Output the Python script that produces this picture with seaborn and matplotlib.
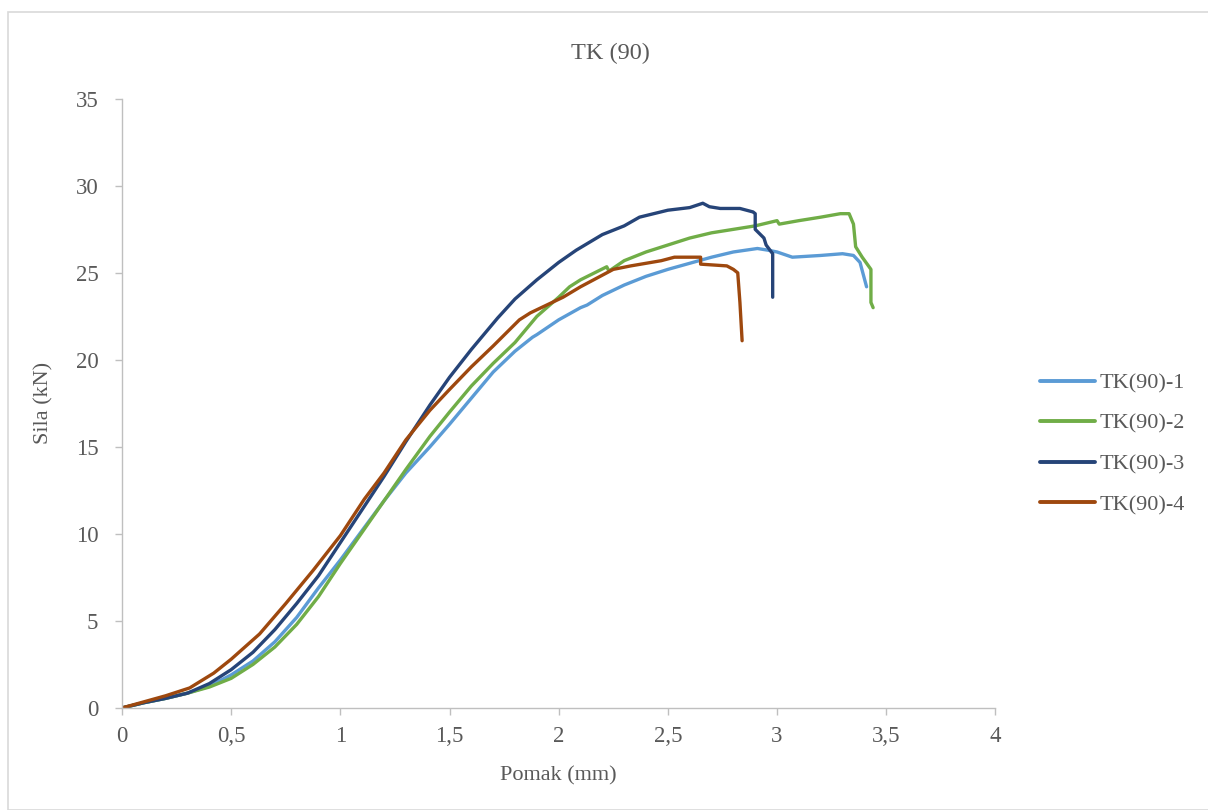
import matplotlib
matplotlib.use("Agg")
import matplotlib.pyplot as plt
import matplotlib.patches as mpatches
import pandas as pd
import seaborn as sns

# Data (displacement mm, force kN)
x1 = [0, 0.1, 0.2, 0.3, 0.4, 0.5, 0.6, 0.7, 0.8, 0.9, 1.0, 1.1, 1.2, 1.3, 1.41, 1.5, 1.6, 1.7, 1.8, 1.88,
      1.9, 2.0, 2.1, 2.13, 2.2, 2.3, 2.4, 2.5, 2.6, 2.7, 2.8, 2.91, 2.96, 3.0, 3.07, 3.2, 3.3, 3.35, 3.38, 3.41]
y1 = [0, 0.3, 0.55, 0.85, 1.25, 1.9, 2.7, 3.8, 5.2, 6.9, 8.5, 10.2, 11.9, 13.5, 15.0, 16.3, 17.8, 19.3, 20.5, 21.3,
      21.45, 22.3, 23.0, 23.15, 23.7, 24.3, 24.8, 25.2, 25.55, 25.9, 26.2, 26.4, 26.3, 26.2, 25.9, 26.0, 26.1, 26.0, 25.6, 24.2]

x2 = [0, 0.1, 0.2, 0.3, 0.4, 0.5, 0.6, 0.7, 0.8, 0.9, 1.0, 1.1, 1.2, 1.3, 1.41, 1.5, 1.6, 1.7, 1.8, 1.9,
      2.0, 2.05, 2.1, 2.22, 2.23, 2.3, 2.4, 2.5, 2.6, 2.7, 2.8, 2.9, 3.0, 3.01, 3.1, 3.2, 3.29, 3.33,
      3.35, 3.36, 3.39, 3.43, 3.43, 3.44]
y2 = [0, 0.3, 0.55, 0.85, 1.2, 1.7, 2.5, 3.5, 4.8, 6.4, 8.3, 10.1, 11.9, 13.7, 15.6, 17.0, 18.5, 19.8, 21.0, 22.5,
      23.6, 24.2, 24.6, 25.35, 25.1, 25.7, 26.2, 26.6, 27.0, 27.3, 27.5, 27.7, 28.0, 27.8, 28.0, 28.2, 28.4, 28.4,
      27.8, 26.5, 25.9, 25.2, 23.3, 23.0]

x3 = [0, 0.1, 0.2, 0.3, 0.4, 0.5, 0.6, 0.7, 0.8, 0.9, 1.0, 1.1, 1.2, 1.3, 1.41, 1.5, 1.6, 1.72, 1.8, 1.9,
      2.0, 2.08, 2.2, 2.3, 2.37, 2.5, 2.6, 2.66, 2.69, 2.74, 2.83, 2.89, 2.90, 2.90, 2.94, 2.95, 2.98, 2.98]
y3 = [0, 0.3, 0.55, 0.85, 1.4, 2.2, 3.2, 4.5, 6.0, 7.6, 9.5, 11.4, 13.3, 15.3, 17.4, 19.0, 20.6, 22.4, 23.5, 24.6,
      25.6, 26.3, 27.2, 27.7, 28.2, 28.6, 28.75, 29.0, 28.8, 28.7, 28.7, 28.5, 28.4, 27.5, 27.0, 26.6, 26.1, 23.6]

x4 = [0, 0.1, 0.2, 0.31, 0.42, 0.5, 0.63, 0.75, 0.875, 1.0, 1.11, 1.2, 1.3, 1.41, 1.5, 1.6, 1.7, 1.82, 1.87,
      2.02, 2.1, 2.25, 2.33, 2.47, 2.53, 2.65, 2.65, 2.77, 2.80, 2.82, 2.83, 2.84]
y4 = [0, 0.35, 0.7, 1.15, 2.0, 2.8, 4.25, 6.0, 7.9, 9.9, 12.0, 13.5, 15.4, 17.1, 18.3, 19.6, 20.8, 22.3, 22.7,
      23.6, 24.2, 25.2, 25.4, 25.7, 25.9, 25.9, 25.5, 25.4, 25.2, 25.0, 23.3, 21.1]

series_names = ["TK(90)-1", "TK(90)-2", "TK(90)-3", "TK(90)-4"]
colors = ["#5B9BD5", "#70AD47", "#264478", "#9E480E"]

x_ticks = [0, 0.5, 1, 1.5, 2, 2.5, 3, 3.5, 4]
x_tick_labels = ["0", "0,5", "1", "1,5", "2", "2,5", "3", "3,5", "4"]
y_ticks = [0, 5, 10, 15, 20, 25, 30, 35]

frames = []
for name, xs, ys in zip(series_names, [x1, x2, x3, x4], [y1, y2, y3, y4]):
    d = pd.DataFrame({"Pomak": xs, "Sila": ys})
    d["serija"] = name
    frames.append(d)
df = pd.concat(frames, ignore_index=True)

sns.set_theme(style="white")
plt.rcParams["font.family"] = ["Liberation Serif", "DejaVu Serif"]

fig = plt.figure(figsize=(12.08, 8.10), dpi=100)
ax = fig.add_axes([0.101, 0.126, 0.723, 0.752])

sns.lineplot(data=df, x="Pomak", y="Sila", hue="serija", hue_order=series_names,
             palette=colors, sort=False, estimator=None, units="serija",
             linewidth=2.4, ax=ax, legend=False)

ax.set_xlim(0, 4)
ax.set_ylim(0, 35)
ax.set_xticks(x_ticks)
ax.set_xticklabels(x_tick_labels)
ax.set_yticks(y_ticks)
ax.tick_params(axis="both", colors="#BFBFBF", labelcolor="#595959", labelsize=16.5,
               length=5, width=1, direction="out", left=True, bottom=True)
ax.tick_params(axis="x", pad=8)
ax.tick_params(axis="y", pad=12)
for s in ["top", "right"]:
    ax.spines[s].set_visible(False)
for s in ["left", "bottom"]:
    ax.spines[s].set_color("#BFBFBF")
    ax.spines[s].set_linewidth(1)

ax.set_xlabel("Pomak (mm)", fontsize=16, color="#595959", labelpad=14)
ax.set_ylabel("Sila (kN)", fontsize=16, color="#595959", labelpad=16)

fig.text(0.505, 0.934, "TK (90)", ha="center", va="center", fontsize=17.5, color="#595959")

handles = [plt.Line2D([], [], color=c, lw=2.8) for c in colors]
fig.legend(handles, series_names, loc="center left", bbox_to_anchor=(0.844, 0.452),
           frameon=False, fontsize=16, labelcolor="#595959", handlelength=2.5,
           labelspacing=0.9, handletextpad=0.2)

fig.patches.append(mpatches.Rectangle((8 / 1208, 0), 1.2, 1 - 12 / 810, transform=fig.transFigure,
                                      fill=False, edgecolor="#D9D9D9", lw=1.2))

fig.savefig("out.png", dpi=100)
